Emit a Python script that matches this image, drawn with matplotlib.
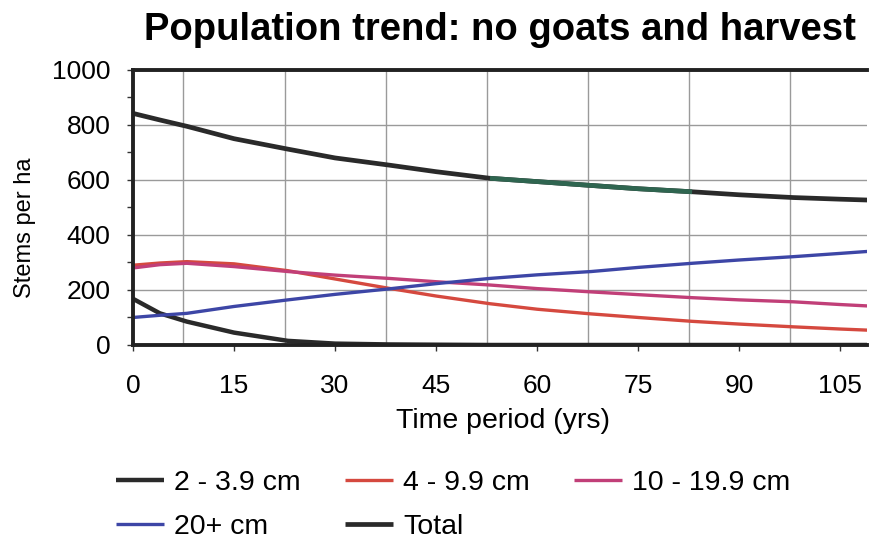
import numpy as np
import matplotlib.pyplot as plt
from matplotlib.ticker import FixedLocator, MultipleLocator

plt.rcParams["font.family"] = ["Liberation Sans", "DejaVu Sans"]

# time period (yrs) and stems per ha for each diameter class
years = [0, 4, 8, 15, 23, 30, 38, 45, 53, 60, 68, 75, 83, 90, 98, 105, 109]
d2_39 = [168, 115, 85, 45, 15, 5, 2, 1, 0, 0, 0, 0, 0, 0, 0, 0, 0]
d4_99 = [290, 298, 303, 295, 270, 240, 206, 178, 150, 130, 113, 100, 86, 76, 66, 58, 54]
d10_199 = [280, 292, 297, 285, 267, 254, 242, 230, 218, 205, 193, 183, 172, 164, 157, 147, 142]
d20 = [100, 108, 115, 140, 164, 184, 204, 223, 242, 255, 267, 282, 297, 309, 321, 333, 340]
total = [842, 818, 795, 750, 712, 680, 654, 630, 606, 594, 580, 568, 557, 546, 536, 530, 527]

labels = ["2 - 3.9 cm", "4 - 9.9 cm", "10 - 19.9 cm", "20+ cm", "Total"]
colors = ["#2a2a2a", "#d5493f", "#c13f78", "#3d46a6", "#2a2a2a"]
widths = [3.2, 2.4, 2.4, 2.4, 3.4]


def main():
    fig = plt.figure(figsize=(8.69, 5.42), dpi=100)
    ax = fig.add_axes([0.153, 0.3635, 0.845, 0.5075])

    handles = []
    for ys, lab, c, w in zip([d2_39, d4_99, d10_199, d20, total], labels, colors, widths):
        h, = ax.plot(years, ys, color=c, lw=w, label=lab, solid_capstyle="butt")
        handles.append(h)

    # middle stretch of the total curve is printed in dark green
    x = np.array(years)
    seg = (x >= 53) & (x <= 83)
    ax.plot(x[seg], np.array(total)[seg], color="#2f6550", lw=3.4, solid_capstyle="butt")

    ax.set_xlim(0, 109)
    ax.set_ylim(0, 1000)
    ax.xaxis.set_major_locator(FixedLocator(range(0, 106, 15)))
    ax.xaxis.set_minor_locator(FixedLocator(np.arange(7.5, 109, 15)))
    ax.yaxis.set_major_locator(MultipleLocator(200))
    ax.yaxis.set_minor_locator(MultipleLocator(100))
    ax.grid(axis="x", which="minor", color="#9a9a9a", lw=1)
    ax.grid(axis="y", which="major", color="#9a9a9a", lw=1)
    ax.set_axisbelow(True)
    ax.tick_params(which="both", direction="out", labelsize=19, color="#333333")
    ax.tick_params(which="major", length=4, width=1)
    ax.tick_params(axis="x", which="minor", length=0)
    ax.tick_params(axis="y", which="minor", length=4, width=1)
    ax.tick_params(axis="x", pad=17)
    ax.tick_params(axis="y", pad=12)

    for side in ["left", "bottom", "top"]:
        ax.spines[side].set_linewidth(2.8)
        ax.spines[side].set_color("#222222")
    ax.spines["right"].set_visible(False)

    ax.set_xlabel("Time period (yrs)", fontsize=20.5)
    ax.xaxis.set_label_coords(0.504, -0.23)
    ax.set_ylabel("Stems per ha", fontsize=17)
    ax.yaxis.set_label_coords(-0.132, 0.425)
    ax.set_title("Population trend: no goats and harvest", fontsize=27.5,
                 fontweight="bold", pad=21.5)

    # row-wise order for a three-column legend
    order = [0, 3, 1, 4, 2]
    fig.legend([handles[i] for i in order], [labels[i] for i in order],
               loc="upper left", bbox_to_anchor=(0.133, 0.132),
               ncol=3, frameon=False, fontsize=20.5, handlelength=1.7,
               handletextpad=0.35, columnspacing=1.55, labelspacing=0.6,
               borderpad=0, borderaxespad=0)

    fig.savefig("out.png", dpi=100)


if __name__ == "__main__":
    main()
